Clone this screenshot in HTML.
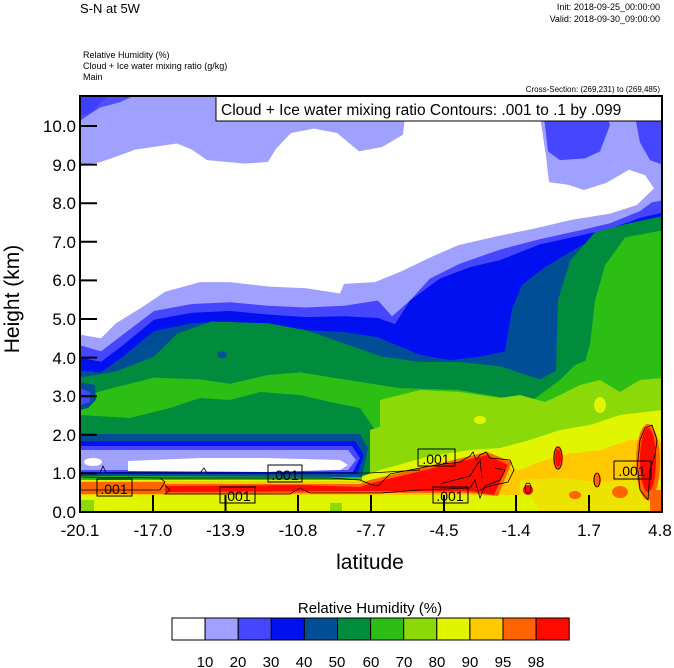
<!DOCTYPE html>
<html><head><meta charset="utf-8"><style>
html,body{margin:0;padding:0;background:#fff;}
svg{display:block;font-family:"Liberation Sans",Arial,sans-serif;}
</style></head><body>
<svg width="674" height="668" viewBox="0 0 674 668" xmlns="http://www.w3.org/2000/svg">
<defs><clipPath id="pc"><rect x="80" y="96" width="582" height="416"/></clipPath></defs>
<text x="80" y="13" font-size="13">S-N at 5W</text>
<text x="660" y="10" font-size="9" text-anchor="end">Init: 2018-09-25_00:00:00</text>
<text x="660" y="22" font-size="9" text-anchor="end">Valid: 2018-09-30_09:00:00</text>
<text x="83" y="58" font-size="9">Relative Humidity   (%)</text>
<text x="83" y="69" font-size="9">Cloud + Ice water mixing ratio   (g/kg)</text>
<text x="83" y="80" font-size="9">Main</text>
<text x="660" y="92" font-size="8" text-anchor="end">Cross-Section: (269,231) to (269,485)</text>

<g clip-path="url(#pc)">
<rect x="80" y="96" width="582" height="416" fill="#a0a0ff"/>
<g transform="translate(0,90) scale(1,0.877) translate(0,-90)">
<path d="M80,96 L110,96 L100,105 L92,115 L80,120Z" fill="#0010f0"/>
<path d="M80,96 L135,96 L120,104 L100,110 L80,125Z" fill="#4646ff" opacity="0.9"/>
<path d="M540,96 L600,96 L610,130 L600,160 L585,168 L560,170 L548,160 L545,130Z" fill="#4646ff"/>
<path d="M630,96 L662,96 L662,175 L650,170 L640,150 L635,120Z" fill="#4646ff"/>
<path d="M80,177 L101,172 L116,166 L135,158 L177,151 L192,158 L207,170 L245,174 L268,172 L276,157 L291,139 L314,134 L337,139 L359,160 L382,155 L403,141 L405,120 L540,120 L546,166 L549,195 L568,198 L584,204 L606,196 L629,181 L645,187 L654,202 L645,212 L637,221 L610,231 L572,238 L534,248 L496,257 L458,267 L432,280 L401,297 L375,309 L344,311 L340,322 L306,316 L268,314 L230,309 L200,309 L165,320 L143,337 L116,356 L101,373 L80,369Z" fill="#ffffff"/>
<path d="M80,381 L101,388 L124,368 L154,342 L192,334 L230,332 L268,336 L306,338 L344,336 L378,330 L392,348 L410,330 L430,305 L460,288 L500,272 L540,260 L580,250 L610,242 L640,228 L652,218 L662,216 L662,600 L80,600Z" fill="#4646ff"/>
<path d="M80,395 L101,400 L124,380 L154,352 L192,344 L230,342 L268,346 L306,349 L344,348 L378,350 L395,357 L410,330 L440,305 L470,292 L500,284 L540,266 L580,256 L610,248 L640,236 L662,230 L662,600 L80,600Z" fill="#0010f0"/>
<path d="M80,410 L101,412 L124,393 L154,365 L192,356 L230,354 L268,360 L306,364 L344,366 L378,372 L420,392 L450,398 L480,394 L505,388 L512,340 L522,312 L545,292 L580,268 L610,254 L640,243 L662,240 L662,600 L80,600Z" fill="#004f96"/>
<path d="M80,418 L116,411 L154,394 L177,368 L211,354 L268,356 L306,364 L344,379 L382,394 L420,400 L458,400 L500,405 L540,420 L556,410 L558,330 L570,285 L595,252 L629,242 L662,234 L662,600 L80,600Z" fill="#008c3c"/>
<path d="M80,440 L112,430 L154,418 L200,420 L230,425 L268,415 L300,412 L344,420 L400,430 L458,432 L500,440 L540,445 L575,440 L590,380 L595,330 L605,290 L625,258 L662,250 L662,600 L80,600Z" fill="#2cbe14"/>
<ellipse cx="222" cy="392" rx="5" ry="4" fill="#004f96"/>
</g>
<!-- lower field, true coords -->
<path d="M80,418 L120,398 L160,380 L200,382 L240,388 L280,378 L320,384 L360,390 L400,395 L440,400 L470,392 L500,398 L530,402 L560,380 L575,365 L600,355 L630,345 L662,335 L662,512 L80,512Z" fill="#2cbe14"/>
<path d="M80,382 L95,385 L96,400 L88,408 L80,410Z" fill="#004f96"/>
<path d="M80,388 L90,392 L90,402 L80,405Z" fill="#4646ff"/>
<path d="M80,415 L130,418 L170,408 L200,398 L230,400 L260,392 L300,395 L330,402 L360,408 L375,430 L370,476 L80,476Z" fill="#008c3c"/>
<path d="M380,400 L420,390 L460,392 L500,398 L520,395 L545,402 L560,395 L580,385 L600,380 L620,392 L640,380 L662,378 L662,512 L380,512Z" fill="#8cd90a"/>
<path d="M370,430 L400,420 L440,428 L480,440 L520,435 L560,430 L620,420 L662,415 L662,512 L370,512Z" fill="#8cd90a"/>
<path d="M80,476 L360,477 L380,470 L430,456 L470,450 L500,448 L530,440 L560,430 L590,425 L620,415 L662,410 L662,512 L80,512Z" fill="#e1f500"/>
<path d="M80,434 L360,434 L368,448 L362,477 L80,477Z" fill="#004f96"/>
<path d="M80,441 L355,441 L364,455 L357,474 L80,474Z" fill="#0010f0"/>
<path d="M80,446 L352,446 L360,458 L353,472 L80,472Z" fill="#4646ff"/>
<path d="M80,450 L348,450 L356,460 L348,470 L80,470Z" fill="#a0a0ff"/>
<path d="M128,461 L200,458 L265,458 L340,460 L348,465 L340,470 L265,472 L128,471Z" fill="#fff"/>
<ellipse cx="93" cy="462" rx="9" ry="4" fill="#fff"/>
<path d="M80,476 L362,477 L362,480 L80,480Z" fill="#2cbe14"/>
<path d="M80,481 L360,481 L400,478 L440,470 L480,465 L520,470 L540,462 L560,455 L600,450 L630,440 L662,440 L662,512 L540,512 L530,495 L480,495 L80,495Z" fill="#ffc800"/>
<path d="M80,482 L165,482 L165,494 L80,494Z" fill="#ff6400"/>
<path d="M165,484 L360,484 L370,480 L487,452 L512,462 L498,496 L470,493 L360,493 L165,494Z" fill="#ff6400"/>
<path d="M165,486 L300,485 L360,487 L372,483 L487,455 L508,465 L494,495 L470,491 L360,491 L165,492Z" fill="#ff0a00"/>
<path d="M80,495 L480,495 L500,512 L80,512Z" fill="#e1f500"/>
<rect x="80" y="500" width="14" height="12" fill="#8cd90a"/>
<rect x="330" y="503" width="12" height="9" fill="#8cd90a"/>
<path d="M540,470 L580,465 L620,470 L662,465 L662,512 L540,512Z" fill="#ffc800"/>
<path d="M520,480 L560,478 L600,482 L662,478 L662,512 L520,512Z" fill="#e1f500" opacity="0.6"/>
<ellipse cx="648" cy="462" rx="12" ry="38" fill="#ff6400"/>
<ellipse cx="648" cy="460" rx="8" ry="32" fill="#ff0a00"/>
<ellipse cx="558" cy="458" rx="5" ry="12" fill="#ff6400"/>
<ellipse cx="558" cy="458" rx="3" ry="9" fill="#ff0a00"/>
<ellipse cx="597" cy="480" rx="4" ry="7" fill="#ff6400"/>
<ellipse cx="528" cy="490" rx="5" ry="5" fill="#ff0a00"/>
<ellipse cx="575" cy="495" rx="6" ry="4" fill="#ff6400"/>
<ellipse cx="620" cy="492" rx="8" ry="6" fill="#ff6400"/>
<rect x="650" y="490" width="12" height="22" fill="#ff6400"/>
<ellipse cx="480" cy="420" rx="6" ry="4" fill="#e1f500"/>
<ellipse cx="600" cy="405" rx="6" ry="8" fill="#e1f500"/>
<!-- contours -->
<g fill="none" stroke="#000" stroke-width="0.8">
<path d="M80,473 L100,473 L103,466 L106,473 L200,473 L204,468 L207,473 L370,473 L420,470"/>
<path d="M80,477 L160,478 L165,482 L160,490 L80,490"/>
<path d="M160,478 L330,478 L360,480 L370,484 L378,486 L390,474 L430,466 L460,462 L470,456 L473,452 L476,460 L480,455 L486,452 L490,458 L510,460 L514,470 L508,482 L490,486 L480,490"/>
<path d="M165,485 L170,490 L165,494 L290,494 L300,488 L310,493 L380,493 L420,490 L470,488 L475,480 L480,498 L485,486 L500,480 L505,470 L495,468"/>
<path d="M440,484 L470,476 L480,460 L482,478"/>
<path d="M637,470 L640,440 L645,428 L652,425 L657,440 L655,455 L650,470 L648,500 L640,490 L638,470"/>
<ellipse cx="558" cy="458" rx="4" ry="11"/>
<ellipse cx="597" cy="480" rx="3" ry="7"/>
<ellipse cx="528" cy="488" rx="3" ry="5"/>
</g>
</g>
<!-- contour labels -->
<g font-size="14" text-anchor="middle">
<rect x="97" y="479" width="35" height="17" fill="none" stroke="#000"/><text x="114" y="494">.001</text>
<rect x="268" y="465" width="34" height="17" fill="none" stroke="#000"/><text x="285" y="480">.001</text>
<rect x="220" y="487" width="35" height="16" fill="none" stroke="#000"/><text x="237" y="501">.001</text>
<rect x="418" y="449" width="37" height="17" fill="none" stroke="#000"/><text x="436" y="464">.001</text>
<rect x="433" y="487" width="35" height="16" fill="none" stroke="#000"/><text x="450" y="501">.001</text>
<rect x="614" y="461" width="37" height="18" fill="none" stroke="#000"/><text x="632" y="476">.001</text>
</g>
<!-- title box -->
<rect x="216" y="96" width="446" height="25" fill="#fff" stroke="#000" stroke-width="1"/>
<text x="221" y="115" font-size="15.5">Cloud + Ice water mixing ratio Contours: .001 to .1 by .099</text>
<!-- axes -->
<rect x="80" y="96" width="582" height="416" fill="none" stroke="#000" stroke-width="2"/>
<g stroke="#000" stroke-width="2">
<line x1="80" y1="126" x2="97" y2="126"/><line x1="80" y1="164.6" x2="97" y2="164.6"/><line x1="80" y1="203.2" x2="97" y2="203.2"/><line x1="80" y1="241.8" x2="97" y2="241.8"/><line x1="80" y1="280.4" x2="97" y2="280.4"/><line x1="80" y1="319" x2="97" y2="319"/><line x1="80" y1="357.6" x2="97" y2="357.6"/><line x1="80" y1="396.2" x2="97" y2="396.2"/><line x1="80" y1="434.8" x2="97" y2="434.8"/><line x1="80" y1="473.4" x2="97" y2="473.4"/>
<line x1="153" y1="512" x2="153" y2="495"/><line x1="225.5" y1="512" x2="225.5" y2="495"/><line x1="298" y1="512" x2="298" y2="495"/><line x1="371" y1="512" x2="371" y2="495"/><line x1="444" y1="512" x2="444" y2="495"/><line x1="516" y1="512" x2="516" y2="495"/><line x1="589" y1="512" x2="589" y2="495"/>
</g>
<g font-size="17" text-anchor="end">
<text x="76" y="132">10.0</text><text x="76" y="171">9.0</text><text x="76" y="209">8.0</text><text x="76" y="248">7.0</text><text x="76" y="286">6.0</text><text x="76" y="325">5.0</text><text x="76" y="364">4.0</text><text x="76" y="402">3.0</text><text x="76" y="441">2.0</text><text x="76" y="479">1.0</text><text x="76" y="518">0.0</text>
</g>
<g font-size="17" text-anchor="middle">
<text x="80" y="536">-20.1</text><text x="153" y="536">-17.0</text><text x="225.5" y="536">-13.9</text><text x="298" y="536">-10.8</text><text x="371" y="536">-7.7</text><text x="444" y="536">-4.5</text><text x="516" y="536">-1.4</text><text x="589" y="536">1.7</text><text x="660" y="536">4.8</text>
</g>
<text x="370" y="569" font-size="21" text-anchor="middle">latitude</text>
<text transform="translate(19,299) rotate(-90)" font-size="21" text-anchor="middle">Height (km)</text>
<!-- colorbar -->
<text x="370" y="613" font-size="15" text-anchor="middle">Relative Humidity  (%)</text>
<g stroke="#000" stroke-width="1">
<rect x="172" y="618" width="33.1" height="22" fill="#ffffff"/>
<rect x="205.1" y="618" width="33.1" height="22" fill="#a0a0ff"/>
<rect x="238.2" y="618" width="33.1" height="22" fill="#4646ff"/>
<rect x="271.3" y="618" width="33.1" height="22" fill="#0010f0"/>
<rect x="304.4" y="618" width="33.1" height="22" fill="#004f96"/>
<rect x="337.5" y="618" width="33.1" height="22" fill="#008c3c"/>
<rect x="370.6" y="618" width="33.1" height="22" fill="#2cbe14"/>
<rect x="403.7" y="618" width="33.1" height="22" fill="#8cd90a"/>
<rect x="436.8" y="618" width="33.1" height="22" fill="#e1f500"/>
<rect x="469.9" y="618" width="33.1" height="22" fill="#ffc800"/>
<rect x="503" y="618" width="33.1" height="22" fill="#ff6400"/>
<rect x="536.1" y="618" width="33.1" height="22" fill="#ff0a00"/>
</g>
<g font-size="15" text-anchor="middle">
<text x="205" y="667">10</text><text x="238" y="667">20</text><text x="271" y="667">30</text><text x="304" y="667">40</text><text x="337" y="667">50</text><text x="371" y="667">60</text><text x="404" y="667">70</text><text x="437" y="667">80</text><text x="470" y="667">90</text><text x="503" y="667">95</text><text x="536" y="667">98</text>
</g>
</svg>
</body></html>
